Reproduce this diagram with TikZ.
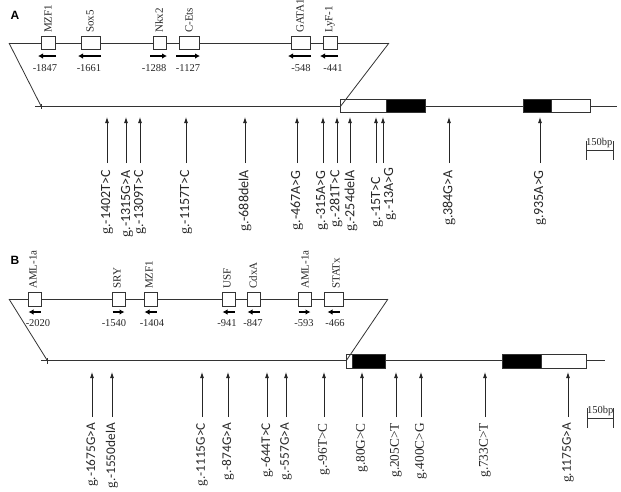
\documentclass[tikz,border=0pt]{standalone}
\usepackage{fontspec}
\setmainfont{Liberation Serif}
\setsansfont{Liberation Sans}
\newfontfamily\mutfont{Carlito}
\usetikzlibrary{arrows.meta}
\tikzset{
  ln/.style={draw=black!80, line width=0.8pt},
  tfbox/.style={draw=black!80, fill=white, line width=0.8pt},
  tfname/.style={rotate=90, anchor=west, inner sep=2pt, font=\fontsize{11}{11}\selectfont, text=black!85},
  tfpos/.style={inner sep=1pt, font=\fontsize{10.5}{10.5}\selectfont, text=black!85},
  tfarr/.style={draw=black, line width=1.3pt, -{Latex[length=5pt,width=5.5pt]}},
  mutarr/.style={draw=black!85, line width=0.8pt, -{Latex[length=6pt,width=4pt]}},
  mutlab/.style={rotate=90, anchor=east, inner sep=3pt, font=\fontsize{14}{14}\selectfont, text=black!85},
  mutlabb/.style={mutlab, font=\fontsize{13.3}{13.3}\selectfont},
  panel/.style={font=\sffamily\bfseries\fontsize{12}{12}\selectfont, inner sep=0pt},
  scl/.style={font=\fontsize{10.5}{10.5}\selectfont, inner sep=0pt, anchor=south west, text=black!85}
}
\newcommand{\gs}{{\rmfamily g.}\mutfont}
\newcommand{\gr}{{\rmfamily g.}}
\begin{document}
\begin{tikzpicture}[x=1pt,y=-1pt]
\useasboundingbox (0,0) rectangle (621,491);
\begin{scope}
\clip (0,0) rectangle (621,491);
% ---------------- Panel A ----------------
\node[panel] (A) at (15,15) {A};
\draw[ln] (9,43) -- (389,43);
\draw[ln] (35,106) -- (617,106);
\draw[ln] (41,104) -- (41,109);
% exons A
\path[draw=black!80, fill=white, line width=0.8pt] (340,99) rectangle (386,112);
\path[draw=black!80, fill=black, line width=0.8pt] (386,99) rectangle (425,112);
\path[draw=black!80, fill=black, line width=0.8pt] (523,99) rectangle (551,112);
\path[draw=black!80, fill=white, line width=0.8pt] (551,99) rectangle (590,112);
\draw[ln] (9,43) -- (41,106);
\draw[ln] (389,43) -- (340,107);
% TF boxes A
\foreach \a/\b/\nm/\lx/\px/\pos/\dir [count=\i] in {
  41/55/MZF1/48/45/-1847/l,
  81/100/Sox5/90/89/-1661/l,
  153/166/Nkx2/159/154/-1288/r,
  179/199/C-Ets/189/188/-1127/r,
  291/310/GATA1/300/301/-548/l,
  323/337/LyF-1/330/333/-441/l}{
  \node[tfbox, minimum width={(\b-\a)*1pt}, minimum height=13pt, inner sep=0pt] (ab\i) at ({(\a+\b)/2},43) {};
  \node[tfname] (an\i) at (\lx,35) {\nm};
  \node[tfpos] (ap\i) at (\px,68) {\pos};
  \coordinate (aL\i) at (\a-3,56);
  \coordinate (aR\i) at (\b+1,56);
  \if\dir l \draw[tfarr] (aR\i) -- (aL\i); \else \draw[tfarr] (aL\i) -- (aR\i); \fi
}
% mutations A
\foreach \x/\lx/\ly/\t [count=\i] in {107/107/167/-1402T>C,126/127/167/-1315G>A,140/140/167/-1309T>C,186/186/167/-1157T>C,245/245/167/-688delA,297/297/167/-467A>G,323/322/167/-315A>G,337/336/167/-281T>C,350/351/167/-254delA,376/377/174/-15T>C,383/390/164/-13A>G,449/449/167/384G>A,540/540/167/935A>G}{
  \coordinate (at\i) at (\x,117);
  \coordinate (ab\i) at (\x,163);
  \node[mutlab] (al\i) at (\lx,\ly) {\gs\t};
  \draw[mutarr] (ab\i) -- (at\i);
}
% scale A
\coordinate (sa1) at (586,150);
\coordinate (sa2) at (613,150);
\draw[ln] (sa1) -- (sa2);
\draw[ln] (586,141) -- (586,160);
\draw[ln] (613,141) -- (613,160);
\node[scl] (sal) at (586,148) {150bp};
% ---------------- Panel B ----------------
\node[panel] (B) at (15,260) {B};
\draw[ln] (9,299) -- (388,299);
\draw[ln] (41,360) -- (605,360);
\draw[ln] (47,358) -- (47,364);
\path[draw=black!80, fill=white, line width=0.8pt] (346,354) rectangle (352,368);
\path[draw=black!80, fill=black, line width=0.8pt] (352,354) rectangle (385,368);
\path[draw=black!80, fill=black, line width=0.8pt] (502,354) rectangle (541,368);
\path[draw=black!80, fill=white, line width=0.8pt] (541,354) rectangle (586,368);
\foreach \a/\b/\nm/\lx/\px/\pos/\dir [count=\i] in {
  28/41/AML-1a/33/38/-2020/l,
  112/125/SRY/117/114/-1540/r,
  144/157/MZF1/149/152/-1404/l,
  222/235/USF/227/227/-941/l,
  247/260/CdxA/253/253/-847/l,
  298/311/AML-1a/305/304/-593/r,
  324/343/STATx/336/335/-466/l}{
  \node[tfbox, minimum width={(\b-\a)*1pt}, minimum height=14pt, inner sep=0pt] (bb\i) at ({(\a+\b)/2},299) {};
  \node[tfname] (bn\i) at (\lx,291) {\nm};
  \node[tfpos] (bp\i) at (\px,323) {\pos};
  \coordinate (bL\i) at ({(\a+\b)/2-6},312);
  \coordinate (bR\i) at ({(\a+\b)/2+6},312);
  \if\dir l \draw[tfarr] (bR\i) -- (bL\i); \else \draw[tfarr] (bL\i) -- (bR\i); \fi
}
\draw[ln] (9,299) -- (47,360);
\draw[ln] (388,299) -- (346,361);
\foreach \x/\t [count=\i] in {92/-1675G>A,112/-1550delA,202/-1115G>C,228/-874G>A,267/-644T>C,286/-557G>A,568/1175G>A}{
  \coordinate (bt\i) at (\x,372);
  \coordinate (bq\i) at (\x,417);
  \node[mutlabb] (bl\i) at (\x,420) {\gs\t};
  \draw[mutarr] (bq\i) -- (bt\i);
}
\foreach \x/\t [count=\i] in {324/-96T>C,362/80G>C,396/205C>T,421/400C>G,485/733C>T}{
  \coordinate (bs\i) at (\x,372);
  \coordinate (br\i) at (\x,417);
  \node[mutlabb] (bk\i) at (\x,420) {\gr\t};
  \draw[mutarr] (br\i) -- (bs\i);
}
\coordinate (sb1) at (587,418);
\coordinate (sb2) at (613,418);
\draw[ln] (sb1) -- (sb2);
\draw[ln] (587,408) -- (587,428);
\draw[ln] (613,408) -- (613,428);
\node[scl] (sbl) at (587,416) {150bp};
\end{scope}
\end{tikzpicture}
\end{document}
